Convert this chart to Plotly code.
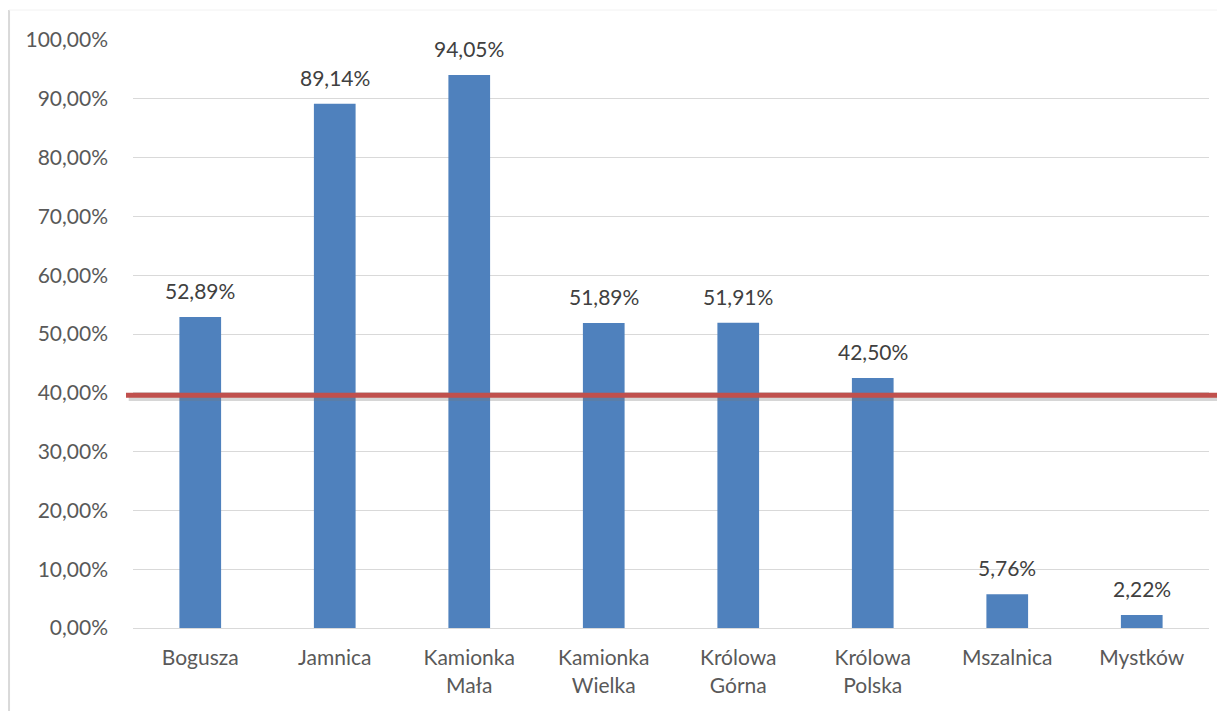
import plotly.graph_objects as go

# dane
villages = ['Bogusza', 'Jamnica', 'Kamionka<br>Mała', 'Kamionka<br>Wielka',
            'Królowa<br>Górna', 'Królowa<br>Polska', 'Mszalnica', 'Mystków']
shares = [0.5289, 0.8914, 0.9405, 0.5189, 0.5191, 0.4250, 0.0576, 0.0222]
threshold = 0.396
y_ticks = [i / 10 for i in range(11)]

fig = go.Figure()
fig.add_trace(go.Bar(
    x=villages,
    y=shares,
    marker=dict(color='#4F81BD', line=dict(width=0)),
    hoverinfo='x+y'
))

# etykiety nad słupkami
for v, s in zip(villages, shares):
    fig.add_annotation(
        x=v, y=s, text=f'{s*100:.2f}%'.replace('.', ','),
        showarrow=False, yanchor='bottom', yshift=12,
        font=dict(size=21, color='#404040')
    )

# linia progu z cieniem (cień ~3 px niżej)
fig.add_shape(type='line', xref='paper', yref='y',
              x0=-0.004, x1=1.02, y0=threshold - 0.005, y1=threshold - 0.005,
              line=dict(color='rgba(120,120,120,0.3)', width=6))
fig.add_shape(type='line', xref='paper', yref='y',
              x0=-0.0065, x1=1.02, y0=threshold, y1=threshold,
              line=dict(color='#C0504D', width=5))

# ramka z lewej
fig.add_shape(type='line', xref='paper', yref='paper',
              x0=-0.1152, x1=-0.1152, y0=-0.2, y1=1.051,
              line=dict(color='#D9D9D9', width=2))
fig.add_shape(type='line', xref='paper', yref='paper',
              x0=-0.1152, x1=1.02, y0=1.051, y1=1.051,
              line=dict(color='#F2F2F2', width=1))

# strona ma margines 8 px, więc figura jest o 8 px mniejsza
fig.update_layout(
    width=1217, height=703,
    paper_bgcolor='white', plot_bgcolor='white',
    font=dict(family='Lato, Open Sans, sans-serif', size=21, color='#595959'),
    separators=',.',
    bargap=0.69,
    showlegend=False,
    margin=dict(l=125, r=16, t=32, b=83, autoexpand=False),
    xaxis=dict(showgrid=False, showline=True, linecolor='#D9D9D9', linewidth=1,
               ticks='', tickfont=dict(size=21, color='#595959'), ticklabelstandoff=11),
    yaxis=dict(range=[0, 1], tickvals=y_ticks, tickformat='.2%',
               showgrid=True, gridcolor='#D9D9D9', gridwidth=1,
               zeroline=False, showline=False, ticks='',
               ticklabelstandoff=24, tickfont=dict(size=21, color='#595959'))
)

fig.write_html('out.html')
